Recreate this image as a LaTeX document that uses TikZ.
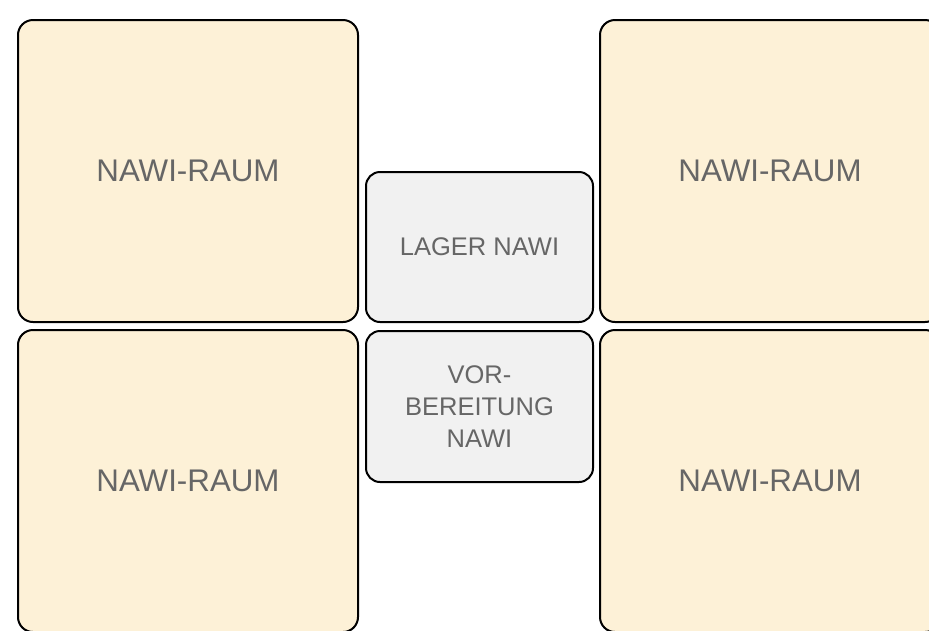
\documentclass[tikz,border=0pt]{standalone}
\usepackage{fontspec}
\setmainfont{Liberation Sans}
\definecolor{roomfill}{HTML}{FDF1D7}
\definecolor{storefill}{HTML}{F1F1F1}
\definecolor{labelgray}{HTML}{666666}

\begin{document}
\begin{tikzpicture}[x=1pt,y=-1pt,
    room/.style={draw=black,line width=2pt,rounded corners=15pt,fill=roomfill,
        minimum width=340pt,minimum height=302pt,text=labelgray,
        font=\fontsize{31.3}{36}\selectfont},
    store/.style={draw=black,line width=2pt,rounded corners=14pt,fill=storefill,
        minimum width=227pt,minimum height=151pt,text=labelgray,align=center,
        font=\fontsize{25.5}{32}\selectfont}]
    % canvas
    \useasboundingbox (0,0) rectangle (929,630);
    \clip (0,0) rectangle (929,630);

    % Draw the four science rooms
    \node[room] (raumNW) at (188,171) {NAWI-RAUM};
    \node[room] (raumSW) at (188,481) {NAWI-RAUM};
    \node[room] (raumNE) at (770,171) {NAWI-RAUM};
    \node[room] (raumSE) at (770,481) {NAWI-RAUM};

    % Draw storage and preparation in the middle
    \node[store,minimum height=150pt] (lager) at (479.5,247) {LAGER NAWI};
    \node[store] (vorb) at (479.5,406.5) {VOR-\\BEREITUNG\\NAWI};
\end{tikzpicture}
\end{document}
